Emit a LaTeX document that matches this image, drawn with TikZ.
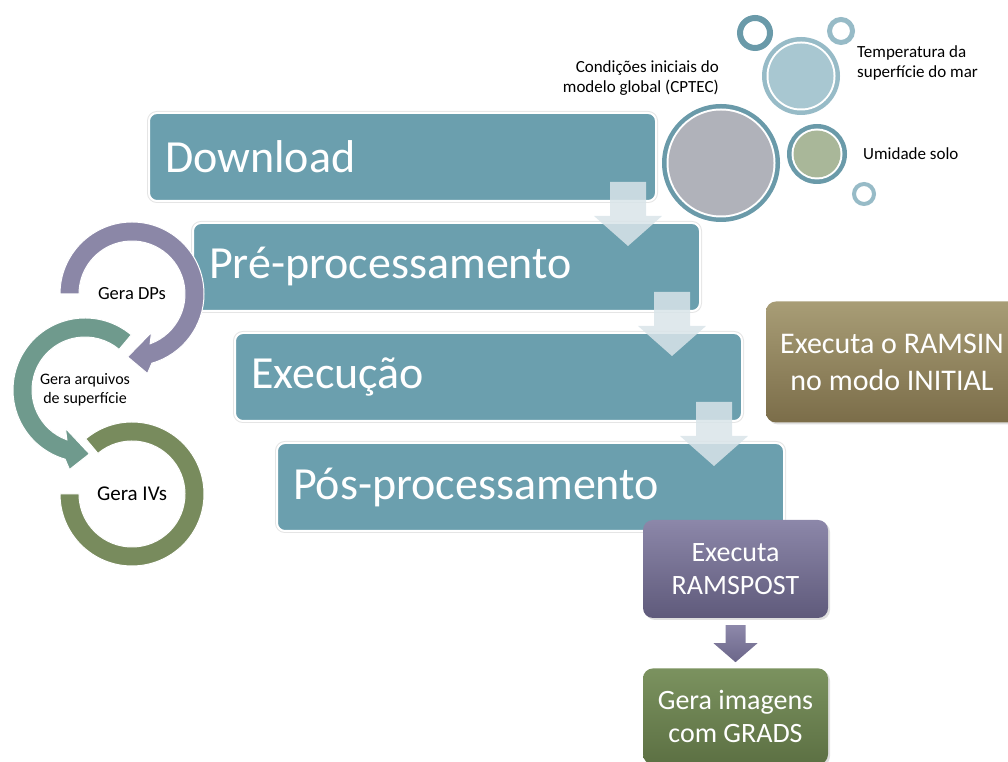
\documentclass[tikz,border=0pt]{standalone}
\usepackage{fontspec}
\setmainfont{Carlito}
\usepackage{tikz}
\usetikzlibrary{calc,positioning,shadows}
\definecolor{stageteal}{HTML}{6B9FAE}
\definecolor{stagecloud}{HTML}{D9E4E9}
\definecolor{ringteal}{HTML}{6A9AA9}
\definecolor{ringlight}{HTML}{97BBC7}
\definecolor{bubblegray}{HTML}{B0B2BA}
\definecolor{bubbleblue}{HTML}{A8C7D1}
\definecolor{bubblesage}{HTML}{A9B799}
\definecolor{dpspurple}{HTML}{8B87A7}
\definecolor{arqteal}{HTML}{6F9A8D}
\definecolor{ivsgreen}{HTML}{788B5D}
\definecolor{ramsintop}{HTML}{A89D76}
\definecolor{ramsinbot}{HTML}{7B6D49}
\definecolor{posttop}{HTML}{8C87A9}
\definecolor{postbot}{HTML}{5F5A7B}
\definecolor{gradstop}{HTML}{7B925F}
\definecolor{gradsbot}{HTML}{5C7043}
\definecolor{arrowtop}{HTML}{8D88AA}
\definecolor{arrowbot}{HTML}{6B6689}
\tikzstyle{stage}=[
        rectangle, rounded corners=8pt, fill=stageteal,
        draw=white, line width=2pt,
        preaction={draw=black!10, line width=4pt},
        minimum width=507pt, minimum height=88pt,
        text width=475pt, inner xsep=16pt, align=left,
        anchor=north west, text=white,
        font=\fontsize{46}{55}\selectfont
]
\tikzstyle{stagedown}=[
        fill=stagecloud, fill opacity=0.85
]
\tikzstyle{note}=[
        inner sep=0pt, font=\fontsize{17}{20}\selectfont
]
\tikzstyle{cyclearc}=[
        draw=white, line width=1pt
]
\tikzstyle{task}=[
        rectangle, rounded corners=10pt, text=white, align=center,
        drop shadow={opacity=0.25, shadow xshift=2pt, shadow yshift=-2pt},
        font=\fontsize{28}{33}\selectfont
]

\begin{document}
\begin{tikzpicture}[x=1pt, y=1pt]
                        \useasboundingbox (0,0) rectangle (1008,762);
                        \clip (0,0) rectangle (1008,762);

                        % stages
                        \node[stage] (download) at (148,650) {Download};
                        \node[stage] (preproc) at (192,540) {Pré-processamento};
                        \node[stage] (execucao) at (234,430) {Execução};
                        \node[stage] (posproc) at (276,320) {Pós-processamento};

                        \foreach \a in {download, preproc, execucao} {
                            \fill[stagedown] ($(\a.south east)+(-47,20)$) -- ++(36,0) -- ++(0,-34)
                                -- ++(16,0) -- ++(-34,-30) -- ++(-34,30) -- ++(16,0) -- cycle;
                        }

                        % bubbles
                        \foreach \cx/\cy/\r/\ringc/\inner in {721/599/59/ringteal/bubblegray,
                                801/686/39/ringlight/bubbleblue, 817/608/30/ringteal/bubblesage} {
                            \fill[\ringc] (\cx,\cy) circle[radius={\r*1pt}];
                            \fill[white] (\cx,\cy) circle[radius={(\r-4.5)*1pt}];
                            \fill[\inner] (\cx,\cy) circle[radius={(\r-6.5)*1pt}];
                        }
                        \foreach \cx/\cy/\r/\w/\ringc in {755/729/15pt/6pt/ringteal,
                                841/731/11.5pt/5pt/ringlight, 864/568/10pt/4pt/ringlight} {
                            \draw[\ringc, line width=\w] (\cx,\cy) circle[radius=\r];
                        }

                        \node[note, anchor=east, align=right] (condlbl) at (719,684) {Condições iniciais do\\modelo global (CPTEC)};
                        \node[note, anchor=west, align=left] (templbl) at (857,699) {Temperatura da\\superfície do mar};
                        \node[note, anchor=west] (umidlbl) at (863,608) {Umidade solo};

                        % cycle on the left
                        \node[font=\fontsize{18.5}{22}\selectfont] (dps) at (132,468) {Gera DPs};
                        \node[font=\fontsize{16}{19}\selectfont, align=center] (arq) at (85,372) {Gera arquivos\\de superfície};
                        \node[font=\fontsize{21}{25}\selectfont] (ivs) at (132,268) {Gera IVs};

                        \filldraw[cyclearc, fill=ivsgreen] ($(ivs)+(-180:72pt)$) arc[start angle=-180, end angle=130, radius=72pt]
                            -- ($(ivs)+(130:53pt)$) arc[start angle=130, end angle=-180, radius=53pt] -- cycle;
                        \filldraw[cyclearc, fill=arqteal] ($(arq)+(50:72pt)$) arc[start angle=50, end angle=254, radius=72pt]
                            -- ($(arq)+(259:81pt)$) -- ($(arq)+(274:64pt)$) -- ($(arq)+(243:43pt)$)
                            -- ($(arq)+(250:53pt)$) arc[start angle=250, end angle=50, radius=53pt] -- cycle;
                        \filldraw[cyclearc, fill=dpspurple] ($(dps)+(180:72pt)$) arc[start angle=180, end angle=-74, radius=72pt]
                            -- ($(dps)+(-79:81pt)$) -- ($(dps)+(-94:63pt)$) -- ($(dps)+(-63:43pt)$)
                            -- ($(dps)+(-70:53pt)$) arc[start angle=-70, end angle=180, radius=53pt] -- cycle;

                        % tasks
                        \node[task, top color=ramsintop, bottom color=ramsinbot, minimum width=252pt, minimum height=121pt,
                            font=\fontsize{30}{37}\selectfont] (ramsin) at (892,400) {Executa o RAMSIN\\no modo INITIAL};
                        \node[task, top color=posttop, bottom color=postbot, minimum width=185pt, minimum height=98pt]
                            (ramspost) at (735.5,193) {Executa\\RAMSPOST};
                        \node[task, top color=gradstop, bottom color=gradsbot, minimum width=185pt, minimum height=96pt,
                            below=50pt of ramspost] (grads) {Gera imagens\\com GRADS};

                        \shade[top color=arrowtop, bottom color=arrowbot] ($(ramspost.south)+(-10,-7)$) -- ++(20,0) -- ++(0,-18)
                            -- ++(12,0) -- ++(-22,-19) -- ++(-22,19) -- ++(12,0) -- cycle;

                    \end{tikzpicture}
\end{document}
